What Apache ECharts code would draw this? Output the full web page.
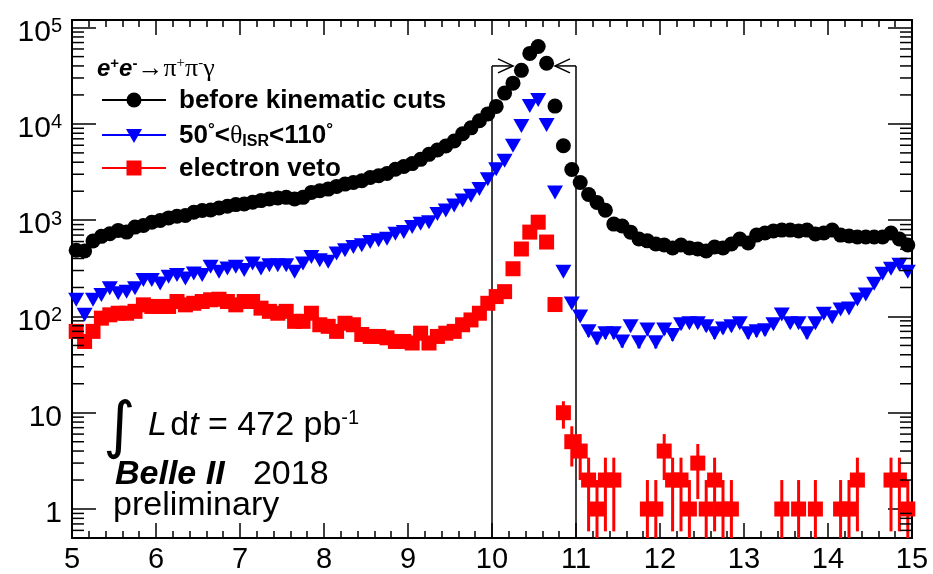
<!DOCTYPE html>
<html>
<head>
<meta charset="utf-8">
<title>e+e- → π+π-γ, Belle II 2018</title>
<script src="https://cdn.jsdelivr.net/npm/echarts@6/dist/echarts.min.js"></script>
<style>
  html, body { margin: 0; padding: 0; background: #ffffff; }
  #chart { width: 933px; height: 574px; }
</style>
</head>
<body>
<div id="chart"></div>
<script>
// Histogram binning of the π+π-γ invariant-mass axis (GeV): 100 bins from 5 to 15.
const binLow = 5.0;
const binWidth = 0.1;

// Events per bin, before any kinematic selection.
const beforeCuts = [
  487, 479, 608, 679, 722, 783, 752, 847, 882, 953,
  993, 1056, 1099, 1117, 1209, 1259, 1277, 1340, 1394, 1452,
  1473, 1534, 1597, 1660, 1700, 1727, 1660, 1727, 1944, 2024,
  2104, 2242, 2370, 2466, 2566, 2775, 2890, 3052, 3381, 3605,
  3871, 4286, 4827, 5356, 5888, 6633, 7900, 9100, 10800, 12700,
  15200, 20900, 26500, 36000, 54000, 63700, 42600, 15300, 5930, 3360,
  2460, 1850, 1530, 1270, 910, 870, 751, 637, 610, 566,
  552, 515, 552, 515, 502, 479, 527, 515, 566, 637,
  579, 700, 735, 771, 789, 789, 771, 789, 718, 735,
  789, 700, 684, 669, 669, 669, 669, 735, 637, 552
];

// Events per bin with 50° < θ_ISR < 110°.
const thetaIsrCut = [
  149, 104, 149, 167, 196, 174, 181, 196, 239, 239,
  220, 258, 269, 248, 279, 269, 328, 291, 315, 328,
  303, 355, 315, 341, 341, 341, 291, 355, 415, 384,
  369, 450, 487, 527, 549, 593, 618, 641, 722, 752,
  847, 916, 953, 1161, 1259, 1417, 1597, 1797, 2104, 2667,
  3381, 4155, 5930, 9530, 15300, 17700, 9770, 1944, 291, 136,
  100, 70, 59, 67, 67, 55, 79, 54, 73, 54,
  73, 64, 83, 85, 85, 79, 67, 75, 79, 85,
  67, 70, 72, 83, 105, 85, 85, 67, 85, 107,
  98, 118, 121, 150, 169, 219, 277, 313, 344, 291
];

// Events per bin after the electron veto (0 = empty bin).
const electronVeto = [
  70, 55, 70, 96, 104, 108, 108, 113, 132, 127,
  127, 127, 143, 132, 137, 143, 149, 151, 143, 132,
  143, 143, 122, 113, 108, 113, 89, 89, 108, 82,
  79, 70, 85, 82, 65, 62, 62, 60, 55, 55,
  53, 67, 53, 62, 67, 70, 82, 92, 108, 137,
  161, 181, 313, 502, 752, 953, 593, 133, 10, 5,
  4, 2, 1, 2, 2, 0, 0, 0, 1, 1,
  4, 2, 2, 1, 3, 1, 2, 1, 1, 0,
  0, 0, 0, 0, 1, 0, 1, 0, 1, 0,
  0, 1, 1, 2, 0, 0, 0, 2, 2, 1
];

// Axis ranges and the mass window marked on the plot.
const xRange = [5, 15];
const yRange = [0.5, 1.2e5];
const minorMantissas = [2, 3, 4, 5, 6, 7, 8, 9];
const massWindow = [10, 11];
const windowLevel = 40000;
const windowArrowTips = [10.25, 10.75];

const SANS = '"Liberation Sans", Arial, Helvetica, sans-serif';
const SERIF = '"Liberation Serif", "DejaVu Serif", Times, serif';

const binCenters = beforeCuts.map((_, i) => Math.round((binLow + (i + 0.5) * binWidth) * 100) / 100);

function toPoints(counts) {
  const pts = [];
  counts.forEach((n, i) => { if (n > 0) pts.push([binCenters[i], n]); });
  return pts;
}

// Poisson (sqrt N) vertical error bars, clipped at the bottom of the frame.
function toErrorBars(counts) {
  const bars = [];
  counts.forEach((n, i) => {
    if (n > 0) {
      const e = Math.sqrt(n);
      bars.push([binCenters[i], Math.max(n - e, yRange[0]), Math.min(n + e, yRange[1])]);
    }
  });
  return bars;
}

function errorBarSeries(counts, color) {
  return {
    type: 'custom',
    silent: true,
    z: 3,
    clip: true,
    encode: { x: 0, y: [1, 2] },
    data: toErrorBars(counts),
    renderItem: function (params, api) {
      const lo = api.coord([api.value(0), api.value(1)]);
      const hi = api.coord([api.value(0), api.value(2)]);
      return {
        type: 'line',
        shape: { x1: lo[0], y1: lo[1], x2: hi[0], y2: hi[1] },
        style: { stroke: color, lineWidth: 3 }
      };
    }
  };
}

// Minor tick positions of the logarithmic y axis (2..9 × 10^k).
const minorTickValues = [];
for (let k = -1; k <= 5; k++) {
  minorMantissas.forEach(m => {
    const v = m * Math.pow(10, k);
    if (v > yRange[0] && v < yRange[1]) minorTickValues.push([xRange[0], v]);
  });
}

function powerLabel(v) {
  const e = Math.round(Math.log10(v));
  const p = Math.pow(10, e);
  if (Math.abs(v - p) > 1e-6 * p) return '';
  if (e === 0) return '{b|1}';
  if (e === 1) return '{b|10}';
  return '{b|10}{s|' + e + '}';
}

const axisLineStyle = { color: '#000', width: 2 };
const tickLine = { color: '#000', width: 1.5 };

function xAxisDef(position, showLabels) {
  return {
    type: 'value',
    position: position,
    min: xRange[0],
    max: xRange[1],
    interval: 1,
    axisLine: { show: true, onZero: false, lineStyle: axisLineStyle },
    axisTick: { show: true, inside: true, length: 15, lineStyle: tickLine },
    minorTick: { show: true, splitNumber: 5, length: 7, lineStyle: tickLine },
    axisLabel: {
      show: showLabels, color: '#000', fontSize: 29, fontFamily: SANS, margin: 7,
      showMinLabel: true, showMaxLabel: true
    },
    splitLine: { show: false },
    minorSplitLine: { show: false }
  };
}

function yAxisDef(position, showLabels) {
  return {
    type: 'log',
    logBase: 10,
    position: position,
    min: yRange[0],
    max: yRange[1],
    axisLine: { show: true, onZero: false, lineStyle: axisLineStyle },
    axisTick: { show: true, inside: true, length: 24, lineStyle: tickLine },
    axisLabel: {
      show: showLabels,
      margin: 10,
      padding: [10, 0, 0, 0],
      formatter: powerLabel,
      rich: {
        b: { fontSize: 30, fontFamily: SANS, color: '#000', lineHeight: 32 },
        s: { fontSize: 20, fontFamily: SANS, color: '#000', lineHeight: 20, verticalAlign: 'top' }
      }
    },
    splitLine: { show: false }
  };
}

const chart = echarts.init(document.getElementById('chart'), null, { renderer: 'canvas' });

const option = {
  animation: false,
  backgroundColor: '#ffffff',
  grid: { left: 72, right: 21, top: 20, bottom: 31, containLabel: false },
  xAxis: [xAxisDef('bottom', true), xAxisDef('top', false)],
  yAxis: [yAxisDef('left', true), yAxisDef('right', false)],
  series: [
    // Minor ticks of the log axis, on the left and right frame edges.
    {
      type: 'custom',
      silent: true,
      z: 10,
      clip: false,
      encode: { x: 0, y: 1 },
      data: minorTickValues,
      renderItem: function (params, api) {
        const l = api.coord([xRange[0], api.value(1)]);
        const r = api.coord([xRange[1], api.value(1)]);
        return {
          type: 'group',
          children: [
            { type: 'line', shape: { x1: l[0], y1: l[1], x2: l[0] + 12, y2: l[1] }, style: { stroke: '#000', lineWidth: 1.5 } },
            { type: 'line', shape: { x1: r[0], y1: r[1], x2: r[0] - 12, y2: r[1] }, style: { stroke: '#000', lineWidth: 1.5 } }
          ]
        };
      }
    },
    // Selected mass window with inward arrows.
    {
      type: 'custom',
      silent: true,
      z: 4,
      clip: false,
      encode: { x: 0, y: 1 },
      data: [[massWindow[0], windowLevel]],
      renderItem: function (params, api) {
        const a0 = api.coord([massWindow[0], yRange[0]]);
        const a1 = api.coord([massWindow[0], windowLevel]);
        const b0 = api.coord([massWindow[1], yRange[0]]);
        const b1 = api.coord([massWindow[1], windowLevel]);
        const tl = api.coord([windowArrowTips[0], windowLevel]);
        const tr = api.coord([windowArrowTips[1], windowLevel]);
        const st = { stroke: '#000', lineWidth: 1.5, fill: null };
        return {
          type: 'group',
          children: [
            { type: 'line', shape: { x1: a0[0], y1: a0[1], x2: a1[0], y2: a1[1] }, style: st },
            { type: 'line', shape: { x1: b0[0], y1: b0[1], x2: b1[0], y2: b1[1] }, style: st },
            { type: 'line', shape: { x1: a1[0], y1: a1[1], x2: tl[0], y2: tl[1] }, style: st },
            { type: 'line', shape: { x1: b1[0], y1: b1[1], x2: tr[0], y2: tr[1] }, style: st },
            { type: 'polyline', shape: { points: [[tl[0] - 15, tl[1] - 7], [tl[0], tl[1]], [tl[0] - 15, tl[1] + 7]] }, style: st },
            { type: 'polyline', shape: { points: [[tr[0] + 15, tr[1] - 7], [tr[0], tr[1]], [tr[0] + 15, tr[1] + 7]] }, style: st }
          ]
        };
      }
    },
    errorBarSeries(beforeCuts, '#000000'),
    errorBarSeries(thetaIsrCut, '#0000ff'),
    errorBarSeries(electronVeto, '#ff0000'),
    {
      name: 'before kinematic cuts',
      type: 'scatter',
      z: 5,
      clip: false,
      symbol: 'circle',
      symbolSize: 15,
      itemStyle: { color: '#000000', opacity: 1 },
      data: toPoints(beforeCuts)
    },
    {
      name: '50°<θISR<110°',
      type: 'scatter',
      z: 5,
      clip: false,
      symbol: 'triangle',
      symbolRotate: 180,
      symbolSize: [16, 14],
      itemStyle: { color: '#0000ff', opacity: 1 },
      data: toPoints(thetaIsrCut)
    },
    {
      name: 'electron veto',
      type: 'scatter',
      z: 5,
      clip: false,
      symbol: 'rect',
      symbolSize: 15,
      itemStyle: { color: '#ff0000', opacity: 1 },
      data: toPoints(electronVeto)
    }
  ],
  graphic: [
    // Process label
    {
      type: 'text', x: 97, y: 69, z: 20,
      style: {
        text: '{e|e}{es|+}{e|e}{es|-}{g|→π}{gs|+}{g|π}{gs|-}{g|γ}',
        verticalAlign: 'middle',
        rich: {
          e: { fontSize: 24, fontFamily: SANS, fontWeight: 'bold', fontStyle: 'italic', color: '#000', lineHeight: 26 },
          es: { fontSize: 15, fontFamily: SANS, fontWeight: 'bold', color: '#000', lineHeight: 15, verticalAlign: 'top' },
          g: { fontSize: 26, fontFamily: SERIF, color: '#000', lineHeight: 26 },
          gs: { fontSize: 15, fontFamily: SERIF, color: '#000', lineHeight: 15, verticalAlign: 'top' }
        }
      }
    },
    // Legend: before kinematic cuts
    { type: 'line', z: 20, shape: { x1: 102, y1: 100, x2: 166, y2: 100 }, style: { stroke: '#000', lineWidth: 2 } },
    { type: 'circle', z: 21, shape: { cx: 134, cy: 100, r: 7.5 }, style: { fill: '#000' } },
    {
      type: 'text', z: 20, x: 179, y: 101,
      style: { text: 'before kinematic cuts', font: 'bold 26px ' + SANS, fill: '#000', verticalAlign: 'middle' }
    },
    // Legend: theta_ISR selection
    { type: 'line', z: 20, shape: { x1: 102, y1: 135, x2: 166, y2: 135 }, style: { stroke: '#0000ff', lineWidth: 2 } },
    { type: 'polygon', z: 21, shape: { points: [[126, 129], [142, 129], [134, 143]] }, style: { fill: '#0000ff' } },
    {
      type: 'text', z: 20, x: 179, y: 136,
      style: {
        text: '{b|50}{d|°}{b|<}{t|θ}{i|ISR}{b|<110}{d|°}',
        verticalAlign: 'middle',
        rich: {
          b: { fontSize: 26, fontFamily: SANS, fontWeight: 'bold', color: '#000', lineHeight: 28 },
          d: { fontSize: 17, fontFamily: SANS, fontWeight: 'bold', color: '#000', lineHeight: 17, verticalAlign: 'top' },
          t: { fontSize: 26, fontFamily: SERIF, color: '#000', lineHeight: 28 },
          i: { fontSize: 16, fontFamily: SANS, fontWeight: 'bold', color: '#000', lineHeight: 16, verticalAlign: 'bottom' }
        }
      }
    },
    // Legend: electron veto
    { type: 'line', z: 20, shape: { x1: 102, y1: 168, x2: 166, y2: 168 }, style: { stroke: '#ff0000', lineWidth: 2 } },
    { type: 'rect', z: 21, shape: { x: 126.5, y: 160.5, width: 15, height: 15 }, style: { fill: '#ff0000' } },
    {
      type: 'text', z: 20, x: 179, y: 169,
      style: { text: 'electron veto', font: 'bold 26px ' + SANS, fill: '#000', verticalAlign: 'middle' }
    },
    // Luminosity and experiment labels
    {
      type: 'text', z: 20, x: 103, y: 430,
      style: { text: '∫', font: '62px "DejaVu Sans", ' + SANS, fill: '#000', verticalAlign: 'middle' }
    },
    {
      type: 'text', z: 20, x: 148, y: 426,
      style: {
        text: '{i|L} {n|d}{i|t}{n| = 472 pb}{s|-1}',
        verticalAlign: 'middle',
        rich: {
          i: { fontSize: 34, fontFamily: SANS, fontStyle: 'italic', color: '#000', lineHeight: 36 },
          n: { fontSize: 34, fontFamily: SANS, color: '#000', lineHeight: 36 },
          s: { fontSize: 20, fontFamily: SANS, color: '#000', lineHeight: 20, verticalAlign: 'top' }
        }
      }
    },
    {
      type: 'text', z: 20, x: 115, y: 475,
      style: {
        text: '{b|Belle II}{n|   2018}',
        verticalAlign: 'middle',
        rich: {
          b: { fontSize: 34, fontFamily: SANS, fontWeight: 'bold', fontStyle: 'italic', color: '#000', lineHeight: 36 },
          n: { fontSize: 34, fontFamily: SANS, color: '#000', lineHeight: 36 }
        }
      }
    },
    {
      type: 'text', z: 20, x: 113, y: 506,
      style: { text: 'preliminary', font: '34px ' + SANS, fill: '#000', verticalAlign: 'middle' }
    }
  ]
};

chart.setOption(option);
</script>
</body>
</html>
